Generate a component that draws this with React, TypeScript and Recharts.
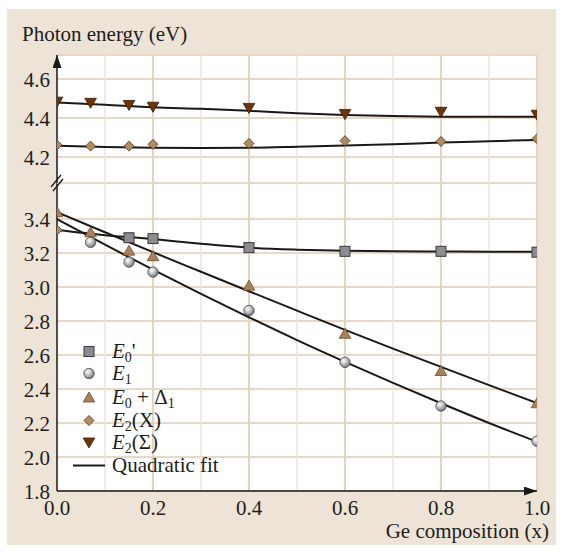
import React from "react";
import { ComposedChart, Line, Scatter, XAxis, YAxis, CartesianGrid } from "recharts";

const xTicks = [0, 0.1, 0.2, 0.3, 0.4, 0.5, 0.6, 0.7, 0.8, 0.9, 1.0];
const upperTicks = [4.2, 4.4, 4.6];
const lowerTicks = [1.8, 2.0, 2.2, 2.4, 2.6, 2.8, 3.0, 3.2, 3.4];

// measured points: [Ge composition x, photon energy eV]
const e0PrimePts = [[0.15, 3.29], [0.2, 3.285], [0.4, 3.232], [0.6, 3.21], [0.8, 3.21], [1.0, 3.205]];
const e1Pts = [[0.07, 3.263], [0.15, 3.147], [0.2, 3.088], [0.4, 2.862], [0.6, 2.557], [0.8, 2.3], [1.0, 2.093]];
const e0D1Pts = [[0, 3.44], [0.07, 3.322], [0.15, 3.214], [0.2, 3.181], [0.4, 3.008], [0.6, 2.725], [0.8, 2.506], [1.0, 2.316]];
const e2XPts = [[0, 4.262], [0.07, 4.256], [0.15, 4.256], [0.2, 4.265], [0.4, 4.27], [0.6, 4.284], [0.8, 4.28], [1.0, 4.294]];
const e2XLowPts = [[0, 3.335]];
const e2SigmaPts = [[0, 4.484], [0.07, 4.478], [0.15, 4.467], [0.2, 4.458], [0.4, 4.452], [0.6, 4.42], [0.8, 4.432], [1.0, 4.417]];

// quadratic fits, read at x = 0, 0.1 ... 1.0
const fitE0Prime = [3.335, 3.305, 3.282, 3.255, 3.232, 3.22, 3.213, 3.21, 3.209, 3.208, 3.208];
const fitE1 = [3.4, 3.249, 3.102, 2.96, 2.822, 2.688, 2.56, 2.436, 2.316, 2.2, 2.09];
const fitE0D1 = [3.44, 3.322, 3.205, 3.09, 2.975, 2.861, 2.748, 2.638, 2.53, 2.423, 2.317];
const fitE2X = [4.258, 4.252, 4.248, 4.247, 4.248, 4.253, 4.259, 4.266, 4.274, 4.281, 4.288];
const fitE2Sigma = [4.48, 4.468, 4.455, 4.447, 4.437, 4.425, 4.416, 4.41, 4.407, 4.406, 4.407];

const W = 563;
const H = 552;
const FONT = "'Liberation Serif', 'Times New Roman', serif";
const INK = "#211d1b";
const BG = "#ede3d7";

const pts = (arr: number[][]) => arr.map(([x, y]) => ({ x, y }));
const fit = (ys: number[]) => xTicks.map((x, i) => ({ x, y: ys[i] }));

const squareDot = (p: any) => (
  <rect x={p.cx - 5} y={p.cy - 5} width={10} height={10} fill="#8a8c92" stroke="#3b3b3d" strokeWidth={1} />
);
const ballDot = (p: any) => (
  <circle cx={p.cx} cy={p.cy} r={5.2} fill="url(#ballGrad)" stroke="#4a4a4c" strokeWidth={0.8} />
);
const triDot = (p: any) => (
  <path d={`M${p.cx},${p.cy - 5.5} L${p.cx + 5.8},${p.cy + 4.5} L${p.cx - 5.8},${p.cy + 4.5} Z`} fill="#a8825a" stroke="#6b4d2c" strokeWidth={0.8} />
);
const diamondDot = (p: any) => (
  <path d={`M${p.cx},${p.cy - 5} L${p.cx + 5},${p.cy} L${p.cx},${p.cy + 5} L${p.cx - 5},${p.cy} Z`} fill="#b08c62" stroke="#5b4126" strokeWidth={0.9} />
);
const invTriDot = (p: any) => (
  <path d={`M${p.cx - 5.8},${p.cy - 4.5} L${p.cx + 5.8},${p.cy - 4.5} L${p.cx},${p.cy + 5.5} Z`} fill="#6b3409" stroke="#3b1a04" strokeWidth={0.8} />
);

const gridV = (p: any) => {
  if (p.index === 0) return <g key={p.key} />;
  const major = p.index % 2 === 0;
  return (
    <line key={p.key} x1={p.x1} y1={p.y1} x2={p.x2} y2={p.y2}
      stroke={major ? "#e6d4bf" : "#efe4d7"} strokeWidth={major ? 2 : 1.5} />
  );
};

const yTick = (p: any) => (
  <text x={p.x - 7} y={p.y} dy={7.5} textAnchor="end" fontFamily={FONT} fontSize={21} fill={INK}>
    {Number(p.payload.value).toFixed(1)}
  </text>
);

const xTick = (p: any) => {
  const v = Number(p.payload.value);
  if (Math.round(v * 10) % 2 !== 0) return <g />;
  return (
    <text x={p.x} y={p.y} dy={24} textAnchor="middle" fontFamily={FONT} fontSize={21} fill={INK}>
      {v.toFixed(1)}
    </text>
  );
};

const fitLine = (ys: number[], key: string) => (
  <Line key={key} data={fit(ys)} dataKey="y" type="monotone" stroke="#1b1918" strokeWidth={2}
    dot={false} activeDot={false} isAnimationActive={false} />
);

const legendRows = [
  { kind: "square", base: 358 },
  { kind: "ball", base: 380 },
  { kind: "tri", base: 404 },
  { kind: "diamond", base: 427 },
  { kind: "invtri", base: 449 },
  { kind: "line", base: 472 },
];

const legendIcon = (kind: string, cy: number) => {
  const cx = 89;
  if (kind === "square") return squareDot({ cx, cy });
  if (kind === "ball") return ballDot({ cx, cy });
  if (kind === "tri") return triDot({ cx, cy });
  if (kind === "diamond") return diamondDot({ cx, cy });
  if (kind === "invtri") return invTriDot({ cx, cy });
  return <line x1={73} x2={105} y1={cy} y2={cy} stroke="#1b1918" strokeWidth={2} />;
};

const legendLabel = (i: number, y: number) => {
  const common = { x: 112, y, fontFamily: FONT, fontSize: 21, fill: INK };
  switch (i) {
    case 0:
      return <text {...common}><tspan fontStyle="italic">E</tspan><tspan fontSize={14} dy={4}>0</tspan><tspan dy={-4}>'</tspan></text>;
    case 1:
      return <text {...common}><tspan fontStyle="italic">E</tspan><tspan fontSize={14} dy={4}>1</tspan></text>;
    case 2:
      return <text {...common}><tspan fontStyle="italic">E</tspan><tspan fontSize={14} dy={4}>0</tspan><tspan dy={-4}> + Δ</tspan><tspan fontSize={14} dy={4}>1</tspan></text>;
    case 3:
      return <text {...common}><tspan fontStyle="italic">E</tspan><tspan fontSize={14} dy={4}>2</tspan><tspan dy={-4}>(X)</tspan></text>;
    case 4:
      return <text {...common}><tspan fontStyle="italic">E</tspan><tspan fontSize={14} dy={4}>2</tspan><tspan dy={-4}>(Σ)</tspan></text>;
    default:
      return <text {...common}>Quadratic fit</text>;
  }
};

export default function App() {
  const layer: React.CSSProperties = { position: "absolute", left: 0, top: 0 };
  return (
    <div style={{ position: "absolute", left: 0, top: 0, width: W, height: H, background: "#fff", overflow: "hidden" }}>
      <div style={{ position: "absolute", left: 7, top: 9, width: 549, height: 536, background: BG }} />

      {/* lower panel: 1.8 - 3.6 eV */}
      <div style={layer}>
        <ComposedChart width={W} height={H} margin={{ top: 183, right: 26, bottom: 31, left: 0 }}>
          <defs>
            <radialGradient id="ballGrad" cx="38%" cy="35%" r="65%">
              <stop offset="0%" stopColor="#ffffff" />
              <stop offset="45%" stopColor="#c6c7ca" />
              <stop offset="100%" stopColor="#737579" />
            </radialGradient>
            <marker id="arrowX" viewBox="0 0 13 9" markerWidth={13} markerHeight={9} refX={13} refY={4.5}
              orient="0" markerUnits="userSpaceOnUse">
              <path d="M0,0 L13,4.5 L0,9 Z" fill="#1b1918" />
            </marker>
          </defs>
          <CartesianGrid fill="#ffffff" stroke="#e8d8c5" strokeWidth={2} vertical={gridV} />
          <XAxis type="number" dataKey="x" domain={[0, 1]} ticks={xTicks} allowDataOverflow height={30}
            tickSize={0} tickMargin={0} tickLine={false} tick={xTick}
            axisLine={{ stroke: "#1b1918", strokeWidth: 1.5, markerEnd: "url(#arrowX)" }} />
          <YAxis type="number" dataKey="y" domain={[1.8, 3.612]} ticks={lowerTicks} allowDataOverflow width={57}
            tickSize={0} tickMargin={0} tickLine={false} tick={yTick}
            axisLine={{ stroke: "#1b1918", strokeWidth: 1.5 }} />
          {fitLine(fitE0Prime, "f0")}
          {fitLine(fitE1, "f1")}
          {fitLine(fitE0D1, "f2")}
          <Scatter data={pts(e2XLowPts)} dataKey="y" shape={diamondDot} isAnimationActive={false} />
          <Scatter data={pts(e0PrimePts)} dataKey="y" shape={squareDot} isAnimationActive={false} />
          <Scatter data={pts(e0D1Pts)} dataKey="y" shape={triDot} isAnimationActive={false} />
          <Scatter data={pts(e1Pts)} dataKey="y" shape={ballDot} isAnimationActive={false} />
        </ComposedChart>
      </div>

      {/* upper panel: 4.07 - 4.72 eV */}
      <div style={layer}>
        <ComposedChart width={W} height={H} margin={{ top: 55, right: 26, bottom: H - 183, left: 0 }}>
          <defs>
            <marker id="arrowY" viewBox="0 0 9 13" markerWidth={9} markerHeight={13} refX={4.5} refY={0}
              orient="0" markerUnits="userSpaceOnUse">
              <path d="M0,13 L4.5,0 L9,13 Z" fill="#1b1918" />
            </marker>
          </defs>
          <CartesianGrid fill="#ffffff" stroke="#e8d8c5" strokeWidth={2} vertical={gridV} />
          <XAxis type="number" dataKey="x" domain={[0, 1]} ticks={xTicks} allowDataOverflow hide />
          <YAxis type="number" dataKey="y" domain={[4.067, 4.723]} ticks={upperTicks} allowDataOverflow width={57}
            tickSize={0} tickMargin={0} tickLine={false} tick={yTick}
            axisLine={{ stroke: "#1b1918", strokeWidth: 1.5, markerStart: "url(#arrowY)" }} />
          {fitLine(fitE2Sigma, "f3")}
          {fitLine(fitE2X, "f4")}
          <Scatter data={pts(e2XPts)} dataKey="y" shape={diamondDot} isAnimationActive={false} />
          <Scatter data={pts(e2SigmaPts)} dataKey="y" shape={invTriDot} isAnimationActive={false} />
        </ComposedChart>
      </div>

      {/* titles, axis break and legend */}
      <svg width={W} height={H} style={layer}>
        <text x={22} y={41} fontFamily={FONT} fontSize={21} fill={INK}>Photon energy (eV)</text>
        <text x={549} y={538} textAnchor="end" fontFamily={FONT} fontSize={21} fill={INK}>Ge composition (x)</text>
        <line x1={51} y1={187} x2={61} y2={175} stroke="#1b1918" strokeWidth={1.3} />
        <line x1={53} y1={191} x2={63} y2={179} stroke="#1b1918" strokeWidth={1.3} />
        {legendRows.map((r, i) => (
          <g key={r.kind}>
            {legendIcon(r.kind, r.base - 6.5)}
            {legendLabel(i, r.base)}
          </g>
        ))}
      </svg>
    </div>
  );
}
